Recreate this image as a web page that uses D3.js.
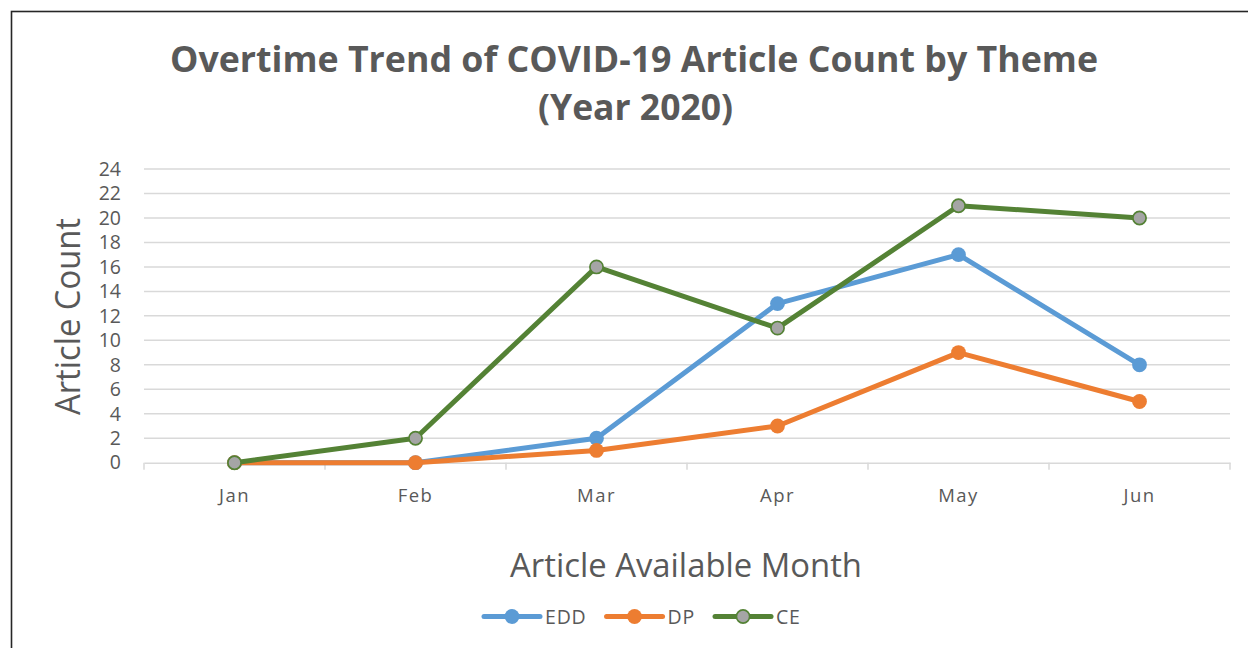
<!DOCTYPE html>
<html>
<head>
<meta charset="utf-8">
<script src="https://cdn.jsdelivr.net/npm/d3@7"></script>
<style>
  html, body { margin: 0; padding: 0; background: #fff; }
  svg { display: block; }
  text { font-family: "Open Sans", "Liberation Sans", sans-serif; fill: #595959; }
</style>
</head>
<body>
<div id="chart-area"></div>
<script>
// Data -------------------------------------------------
const months = ["Jan", "Feb", "Mar", "Apr", "May", "Jun"]
const eddCounts = [0, 0, 2, 13, 17, 8]
const dpCounts = [0, 0, 1, 3, 9, 5]
const ceCounts = [0, 2, 16, 11, 21, 20]
const yTicks = [0, 2, 4, 6, 8, 10, 12, 14, 16, 18, 20, 22, 24]

const series = [
  {name: "EDD", values: eddCounts, stroke: "#5B9BD5", fill: "#5B9BD5"},
  {name: "DP", values: dpCounts, stroke: "#ED7D31", fill: "#ED7D31"},
  {name: "CE", values: ceCounts, stroke: "#548235", fill: "#A5A5A5"}
]

// Canvas setup -----------------------------------------
const W = 1248, H = 648
const MARGIN = {LEFT: 144, RIGHT: 18, TOP: 169, BOTTOM: 185}

const svg = d3.select("#chart-area").append("svg")
  .attr("width", W)
  .attr("height", H)

// outer frame (only top/left visible in the shot)
svg.append("rect")
  .attr("x", 11.5).attr("y", 11.5)
  .attr("width", W + 20).attr("height", H + 20)
  .attr("fill", "none")
  .attr("stroke", "#262626")
  .attr("stroke-width", 1.6)

const x = d3.scaleBand()
  .domain(months)
  .range([MARGIN.LEFT, W - MARGIN.RIGHT])
  .padding(0)

const y = d3.scaleLinear()
  .domain([0, 24])
  .range([H - MARGIN.BOTTOM - 0.3, MARGIN.TOP])

// fit a text to a given width by squeezing glyphs (Calibri is narrow)
function fit(sel, w) {
  sel.attr("textLength", w).attr("lengthAdjust", "spacingAndGlyphs")
  return sel
}

// Title ---
fit(svg.append("text")
  .attr("x", 634).attr("y", 72)
  .attr("text-anchor", "middle")
  .attr("font-size", 35)
  .attr("font-weight", "bold")
  .text("Overtime Trend of COVID-19 Article Count by Theme"), 928)

fit(svg.append("text")
  .attr("x", 635.5).attr("y", 120)
  .attr("text-anchor", "middle")
  .attr("font-size", 35)
  .attr("font-weight", "bold")
  .text("(Year 2020)"), 195)

// Gridlines ---
svg.append("g")
  .selectAll("line")
  .data(yTicks.filter(d => d > 0))
  .join("line")
  .attr("x1", MARGIN.LEFT).attr("x2", W - MARGIN.RIGHT)
  .attr("y1", d => y(d)).attr("y2", d => y(d))
  .attr("stroke", "#D9D9D9")
  .attr("stroke-width", 1.5)

// X axis ---
const xAxis = svg.append("g")
  .attr("transform", `translate(0, ${y(0)})`)
  .call(d3.axisBottom(x).tickSize(0).tickSizeOuter(0))
xAxis.select(".domain").attr("stroke", "#D9D9D9").attr("stroke-width", 1.5)
xAxis.selectAll(".tick text")
  .attr("dy", null)
  .attr("y", 39)
  .attr("font-size", 18.5)
  .attr("letter-spacing", 1.5)
  .attr("fill", "#595959")
  .attr("font-family", "Open Sans")

// band boundary tick marks
xAxis.append("g")
  .selectAll("line")
  .data(months.map(m => x(m)).concat([x.range()[1]]))
  .join("line")
  .attr("x1", d => d).attr("x2", d => d)
  .attr("y1", 0).attr("y2", 7)
  .attr("stroke", "#D9D9D9")
  .attr("stroke-width", 1.5)

// Y axis ---
const yAxis = svg.append("g")
  .attr("transform", `translate(${MARGIN.LEFT}, 0)`)
  .call(d3.axisLeft(y).tickValues(yTicks).tickSize(0).tickPadding(23))
yAxis.select(".domain").remove()
yAxis.selectAll(".tick text")
  .attr("font-size", 19.5)
  .attr("fill", "#595959")
  .attr("font-family", "Open Sans")

// Axis titles ---
fit(svg.append("text")
  .attr("transform", "translate(80, 316.5) rotate(-90)")
  .attr("text-anchor", "middle")
  .attr("font-size", 34)
  .text("Article Count"), 197)

fit(svg.append("text")
  .attr("x", 686).attr("y", 577)
  .attr("text-anchor", "middle")
  .attr("font-size", 32)
  .text("Article Available Month"), 352)

// Lines and markers ---
const cx = d => x(d) + x.bandwidth() / 2
const line = d3.line()
  .x((d, i) => cx(months[i]))
  .y(d => y(d))

const sg = svg.append("g")
  .selectAll("g")
  .data(series)
  .join("g")

sg.append("path")
  .attr("d", d => line(d.values))
  .attr("fill", "none")
  .attr("stroke", d => d.stroke)
  .attr("stroke-width", 5)
  .attr("stroke-linejoin", "round")
  .attr("stroke-linecap", "round")

sg.selectAll("circle")
  .data(d => d.values.map((v, i) => ({v, i, s: d})))
  .join("circle")
  .attr("cx", d => cx(months[d.i]))
  .attr("cy", d => y(d.v))
  .attr("r", d => d.s.name === "CE" ? 6.6 : 7.4)
  .attr("fill", d => d.s.fill)
  .attr("stroke", d => d.s.stroke)
  .attr("stroke-width", d => d.s.name === "CE" ? 1.7 : 0)

// Legend ---
const legendY = 616.5
let lx = 484
series.forEach(s => {
  const lg = svg.append("g")
  lg.append("line")
    .attr("x1", lx).attr("x2", lx + 56)
    .attr("y1", legendY).attr("y2", legendY)
    .attr("stroke", s.stroke)
    .attr("stroke-width", 5)
    .attr("stroke-linecap", "round")
  lg.append("circle")
    .attr("cx", lx + 28).attr("cy", legendY)
    .attr("r", s.name === "CE" ? 6.6 : 7.4)
    .attr("fill", s.fill)
    .attr("stroke", s.stroke)
    .attr("stroke-width", s.name === "CE" ? 1.7 : 0)
  const t = lg.append("text")
    .attr("x", lx + 61).attr("y", legendY + 7)
    .attr("font-size", 19.5)
    .attr("letter-spacing", 0.8)
    .text(s.name)
  lx += 61 + t.node().getComputedTextLength() + 20
})
</script>
</body>
</html>
